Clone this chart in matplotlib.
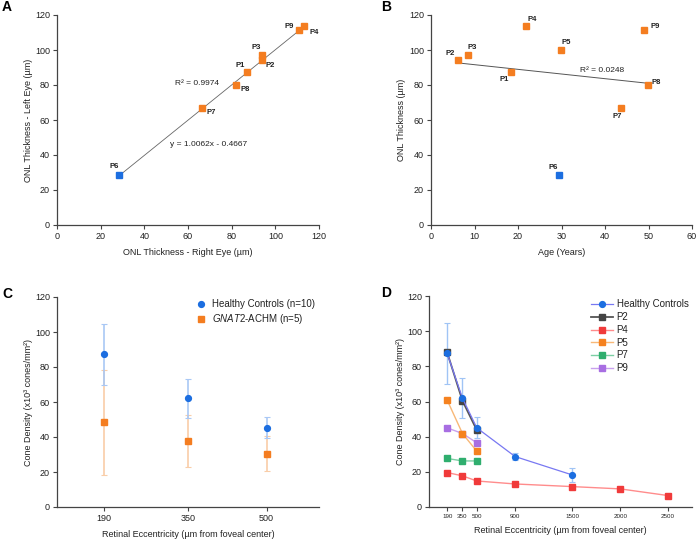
import matplotlib
matplotlib.use("Agg")
import matplotlib.pyplot as plt
import numpy as np

plt.rcParams['font.family'] = ['Liberation Sans', 'DejaVu Sans']
plt.rcParams['mathtext.fontset'] = 'custom'
plt.rcParams['mathtext.rm'] = 'Liberation Sans'
plt.rcParams['mathtext.it'] = 'Liberation Sans:italic'
plt.rcParams['text.color'] = '#222222'
plt.rcParams['axes.labelcolor'] = '#222222'
plt.rcParams['xtick.color'] = '#444444'
plt.rcParams['ytick.color'] = '#444444'
plt.rcParams['xtick.labelcolor'] = '#222222'
plt.rcParams['ytick.labelcolor'] = '#222222'

# panel A / B data
patients = ['P1', 'P2', 'P3', 'P4', 'P5', 'P6', 'P7', 'P8', 'P9']
right_eye = [87.2, 93.9, 93.9, 113.1, None, 28.3, 66.4, 82.1, 110.9]
left_eye = [87.6, 94.1, 97.1, 113.5, None, 28.4, 66.7, 80.0, 111.2]
age = [18.3, 6.3, 8.6, 21.9, 29.8, 29.4, 43.7, 49.8, 48.9]
onl = [87.6, 94.1, 97.1, 113.5, 100.0, 28.4, 66.7, 80.0, 111.2]
label_a = {'P1': (86, 91, 'right'), 'P2': (95.6, 91, 'left'), 'P3': (91.4, 101.5, 'center'),
           'P4': (115.6, 110, 'left'), 'P6': (26, 33.5, 'center'), 'P7': (68.5, 64, 'left'),
           'P8': (84, 77.3, 'left'), 'P9': (106.4, 113.7, 'center')}
label_b = {'P1': (16.9, 83.2, 'center'), 'P2': (5.6, 97.9, 'right'), 'P3': (9.5, 101.3, 'center'),
           'P4': (23.3, 117.5, 'center'), 'P5': (31, 104, 'center'), 'P6': (28, 33.1, 'center'),
           'P7': (42.7, 62.1, 'center'), 'P8': (50.7, 81.5, 'left'), 'P9': (50.5, 113.7, 'left')}
fit_slope, fit_icpt = 1.0062, -0.4667
trend_b_x = [6.3, 49.8]
trend_b_y = [92.6, 81.0]

# panel C data
ecc_c = [190, 350, 500]
hc_mean = [87.2, 62.1, 45.3]
hc_sd = [17.5, 11.2, 6.0]
gn_mean = [48.4, 37.7, 30.5]
gn_sd = [30.0, 14.9, 9.9]

# panel D data
ecc_d = [190, 350, 500, 900, 1500, 2000, 2500]
hc_d = [87.4, 61.9, 45.0, 28.7, 18.2]
hc_d_sd = [17.5, 11.2, 6.0, 2.2, 4.2]
p2_d = [87.9, 60.4, 43.7]
p4_d = [19.6, 17.7, 14.8, 13.1, 11.6, 10.3, 6.5]
p5_d = [60.8, 41.8, 31.7]
p7_d = [27.6, 26.2, 26.2]
p9_d = [45.0, 41.8, 36.5]

BLUE = '#1c6ee0'
ORANGE = '#f47d20'
TS = 6.5

fig = plt.figure(figsize=(6.98, 5.41), dpi=100)
axA = fig.add_axes([57/698, 1-225/541, 262/698, 210/541])
axB = fig.add_axes([431/698, 1-225/541, 261/698, 210/541])
axC = fig.add_axes([57/698, 1-507/541, 262/698, 210/541])
axD = fig.add_axes([429/698, 1-507/541, 263/698, 211/541])

for ax in (axA, axB, axC, axD):
    ax.spines['top'].set_visible(False)
    ax.spines['right'].set_visible(False)
    for s in ('left', 'bottom'):
        ax.spines[s].set_color('#444444')
        ax.spines[s].set_linewidth(0.9)
    ax.tick_params(labelsize=TS, length=3, width=0.8, pad=2)
    ax.set_ylim(0, 120)
    ax.set_yticks(range(0, 121, 20))

# A
xmin = min(v for v in right_eye if v is not None)
xmax = max(v for v in right_eye if v is not None)
fx = np.array([xmin, xmax])
axA.plot(fx, fit_slope * fx + fit_icpt, color='#666666', lw=0.6, zorder=1)
for p, x, y in zip(patients, right_eye, left_eye):
    if x is None:
        continue
    c = BLUE if p == 'P6' else ORANGE
    axA.plot(x, y, 's', color=c, ms=4.2, zorder=3)
    lx, ly, ha = label_a[p]
    axA.text(lx, ly, p, fontsize=5.5, fontweight='bold', ha=ha, va='center')
axA.text(64, 80.8, 'R² = 0.9974', fontsize=6, ha='center', va='center')
axA.text(69.3, 46, 'y = 1.0062x - 0.4667', fontsize=6, ha='center', va='center')
axA.set_xlim(0, 120)
axA.set_xticks(range(0, 121, 20))
axA.set_xlabel('ONL Thickness - Right Eye (µm)', fontsize=TS, labelpad=5)
axA.set_ylabel('ONL Thickness - Left Eye (µm)', fontsize=TS, labelpad=1.5)

# B
axB.plot(trend_b_x, trend_b_y, color='#555555', lw=0.7, zorder=1)
for p, x, y in zip(patients, age, onl):
    c = BLUE if p == 'P6' else ORANGE
    axB.plot(x, y, 's', color=c, ms=4.2, zorder=3)
    lx, ly, ha = label_b[p]
    axB.text(lx, ly, p, fontsize=5.5, fontweight='bold', ha=ha, va='center')
axB.text(39.4, 88.4, 'R² = 0.0248', fontsize=6, ha='center', va='center')
axB.set_xlim(0, 60)
axB.set_xticks(range(0, 61, 10))
axB.set_xlabel('Age (Years)', fontsize=TS, labelpad=5)
axB.set_ylabel('ONL Thickness (µm)', fontsize=TS, labelpad=2)

# C
axC.errorbar(ecc_c, gn_mean, yerr=gn_sd, fmt='none', ecolor='#f9cda8', elinewidth=1.2,
             capsize=2.5, capthick=0.8, zorder=1)
axC.errorbar(ecc_c, hc_mean, yerr=hc_sd, fmt='none', ecolor='#a9c8f5', elinewidth=1.2,
             capsize=2.5, capthick=0.8, zorder=1)
axC.plot(ecc_c, hc_mean, 'o', color=BLUE, ms=4.2, label='Healthy Controls (n=10)', zorder=3)
axC.plot(ecc_c, gn_mean, 's', color=ORANGE, ms=4, label=r'$\it{GNAT2}$-ACHM (n=5)', zorder=3)
axC.set_xlim(100, 600)
axC.set_xticks(ecc_c)
axC.set_xlabel('Retinal Eccentricity (µm from foveal center)', fontsize=TS, labelpad=5)
axC.set_ylabel('Cone Density (x10³ cones/mm²)', fontsize=TS, labelpad=1.5)
axC.legend(loc='upper right', bbox_to_anchor=(1.02, 1.03), frameon=False, fontsize=7,
           handletextpad=0.6, labelspacing=0.3, handlelength=1.2)

# D
axD.errorbar(ecc_d[:5], hc_d, yerr=hc_d_sd, fmt='none', ecolor='#a0c4f5', elinewidth=1.0,
             capsize=2.5, capthick=0.8, zorder=2)
axD.plot(ecc_d, p4_d, '-s', color='#ff8c8c', mfc='#f03a3a', mec='#f03a3a', ms=4, lw=1.0, label='P4', zorder=3)
axD.plot(ecc_d[:3], p7_d, '-s', color='#7ccfa4', mfc='#2fae6e', mec='#2fae6e', ms=4, lw=1.0, label='P7', zorder=3)
axD.plot(ecc_d[:3], p9_d, '-s', color='#c8a0ee', mfc='#a86ee2', mec='#a86ee2', ms=4, lw=1.0, label='P9', zorder=3)
axD.plot(ecc_d[:3], p5_d, '-s', color='#f8b878', mfc='#f58220', mec='#f58220', ms=4, lw=1.0, label='P5', zorder=3)
axD.plot(ecc_d[:3], p2_d, '-s', color='#555555', mfc='#444444', mec='#444444', ms=4, lw=1.3, label='P2', zorder=4)
axD.plot(ecc_d[:5], hc_d, '-o', color='#7878f2', mfc=BLUE, mec=BLUE, ms=4.2, lw=0.9,
         label='Healthy Controls', zorder=5)
axD.set_xlim(0, 2750)
axD.set_xticks(ecc_d)
axD.tick_params(axis='x', labelsize=4.5)
axD.set_xlabel('Retinal Eccentricity (µm from foveal center)', fontsize=TS, labelpad=5)
axD.set_ylabel('Cone Density (x10³ cones/mm²)', fontsize=TS, labelpad=1.5)
h, l = axD.get_legend_handles_labels()
order = ['Healthy Controls', 'P2', 'P4', 'P5', 'P7', 'P9']
hd = dict(zip(l, h))
axD.legend([hd[k] for k in order], order, loc='upper right', bbox_to_anchor=(1.02, 1.025),
           frameon=False, fontsize=7, handlelength=2.2, handletextpad=0.4, labelspacing=0.28)

for lab, x, y in [('A', 2, 534), ('B', 381, 534), ('C', 2, 247), ('D', 381, 248)]:
    fig.text(x/698, y/541, lab, fontsize=10, fontweight='bold', color='black', va='center')

fig.savefig('out.png', dpi=100)
